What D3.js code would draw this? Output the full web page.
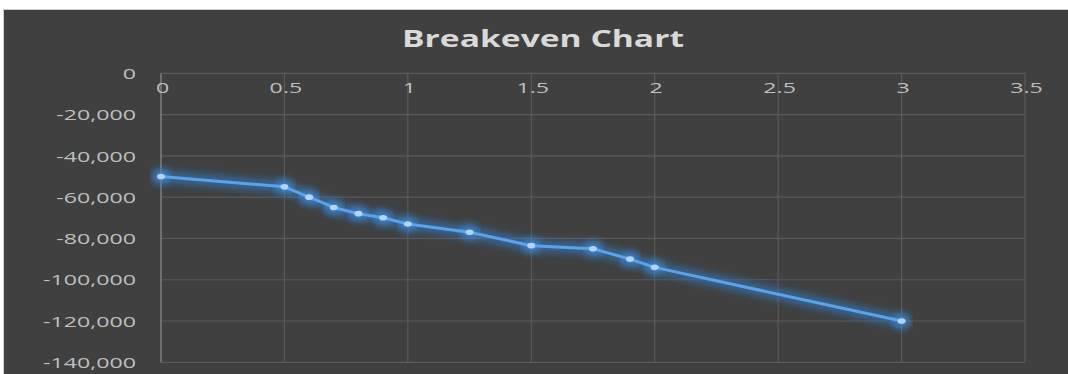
<!DOCTYPE html>
<html>
<head>
<meta charset="utf-8">
<script src="https://cdn.jsdelivr.net/npm/d3@7"></script>
<style>
  html, body { margin: 0; padding: 0; background: #ffffff; }
  svg { display: block; }
</style>
</head>
<body>
<svg id="chart" width="1068" height="374"></svg>
<script>
// ---- data ----
const title = "Breakeven Chart";
const xValues = [0, 0.5, 0.6, 0.7, 0.8, 0.9, 1, 1.25, 1.5, 1.75, 1.9, 2, 3];
const yValues = [-50000, -55000, -60000, -65000, -68000, -70000, -73000, -77000, -83500, -85000, -90000, -94000, -120000];
const xTicks = [0, 0.5, 1, 1.5, 2, 2.5, 3, 3.5];
const yTicks = [0, -20000, -40000, -60000, -80000, -100000, -120000, -140000];

// ---- layout ----
const W = 1068, H = 374;
const plot = { left: 161, right: 1025, top: 73.3, bottom: 362.3 };
const stretch = 1.6; // horizontal text stretch seen in the reference

const svg = d3.select("#chart");

// background panel
svg.append("rect").attr("x", 0).attr("y", 0).attr("width", W).attr("height", H).attr("fill", "#ffffff");
svg.append("rect")
  .attr("x", 3.5).attr("y", 9.5).attr("width", W).attr("height", H)
  .attr("fill", "#404040").attr("stroke", "#cfcfcf").attr("stroke-width", 1);

const x = d3.scaleLinear().domain([0, 3.5]).range([plot.left, plot.right]);
const y = d3.scaleLinear().domain([0, -140000]).range([plot.top, plot.bottom]);

// defs: glow
const defs = svg.append("defs");
const glow = defs.append("filter").attr("id", "glow")
  .attr("x", "-10%").attr("y", "-50%").attr("width", "120%").attr("height", "200%");
glow.append("feGaussianBlur").attr("in", "SourceGraphic").attr("stdDeviation", 4.5);

// gridlines
const grid = svg.append("g");
grid.selectAll("line.h").data(yTicks).join("line")
  .attr("x1", plot.left).attr("x2", plot.right)
  .attr("y1", d => y(d)).attr("y2", d => y(d))
  .attr("stroke", "#5a5a5a").attr("stroke-width", 1.2);
grid.selectAll("line.v").data(xTicks).join("line")
  .attr("y1", plot.top).attr("y2", plot.bottom)
  .attr("x1", d => x(d)).attr("x2", d => x(d))
  .attr("stroke", d => d === 0 ? "#7a7a7a" : "#5a5a5a")
  .attr("stroke-width", d => d === 0 ? 1.6 : 1.2);

// stretch helper
function stretchText(sel, k) {
  sel.each(function() {
    const len = this.getComputedTextLength();
    d3.select(this).attr("textLength", len * k).attr("lengthAdjust", "spacingAndGlyphs");
  });
}

// y axis labels (hyphen-minus as in the reference)
const fmt = d3.format(",");
const yAxis = d3.axisLeft(y).tickValues(yTicks).tickSize(0).tickPadding(0)
  .tickFormat(d => fmt(d).replace("\u2212", "-"));
const yG = svg.append("g").attr("transform", `translate(${plot.left - 25},0)`).call(yAxis);
yG.select(".domain").remove();
yG.selectAll("text")
  .attr("fill", "#bfbfbf")
  .attr("font-family", "'Open Sans', sans-serif")
  .attr("font-size", 14.5)
  .attr("dy", "0.36em")
  .call(stretchText, stretch);

// x axis labels (axis crosses at y = 0, labels below)
const xAxis = d3.axisBottom(x).tickValues(xTicks).tickSize(0).tickPadding(0).tickFormat(d => String(d));
const xG = svg.append("g").attr("transform", `translate(1,${y(0) + 14})`).call(xAxis);
xG.select(".domain").remove();
xG.selectAll("text")
  .attr("fill", "#bfbfbf")
  .attr("font-family", "'Open Sans', sans-serif")
  .attr("font-size", 14.5)
  .attr("dy", "0.36em")
  .call(stretchText, stretch);

// title
const t = svg.append("text")
  .attr("x", 543).attr("y", 46.5)
  .attr("text-anchor", "middle")
  .attr("fill", "#d9d9d9")
  .attr("font-family", "'Open Sans', sans-serif")
  .attr("font-weight", "bold")
  .attr("font-size", 23)
  .text(title);
t.attr("textLength", 282).attr("lengthAdjust", "spacingAndGlyphs");

// series
const pts = xValues.map((v, i) => [v, yValues[i]]);
const line = d3.line().x(d => x(d[0])).y(d => y(d[1]));

svg.append("path").datum(pts)
  .attr("d", line).attr("fill", "none")
  .attr("stroke", "#2f7fd0").attr("stroke-width", 10).attr("stroke-opacity", 0.7)
  .attr("stroke-linejoin", "round").attr("stroke-linecap", "round")
  .attr("filter", "url(#glow)");

svg.append("g").selectAll("ellipse.glow").data(pts).join("ellipse")
  .attr("cx", d => x(d[0])).attr("cy", d => y(d[1]))
  .attr("rx", 9).attr("ry", 7).attr("fill", "#3d8ee0").attr("opacity", 0.8)
  .attr("filter", "url(#glow)");

svg.append("path").datum(pts)
  .attr("d", line).attr("fill", "none")
  .attr("stroke", "#5aa2ea").attr("stroke-width", 3)
  .attr("stroke-linejoin", "round");

svg.append("g").selectAll("ellipse.m").data(pts).join("ellipse")
  .attr("cx", d => x(d[0])).attr("cy", d => y(d[1]))
  .attr("rx", 4).attr("ry", 2.8).attr("fill", "#b3d4f4");
</script>
</body>
</html>
